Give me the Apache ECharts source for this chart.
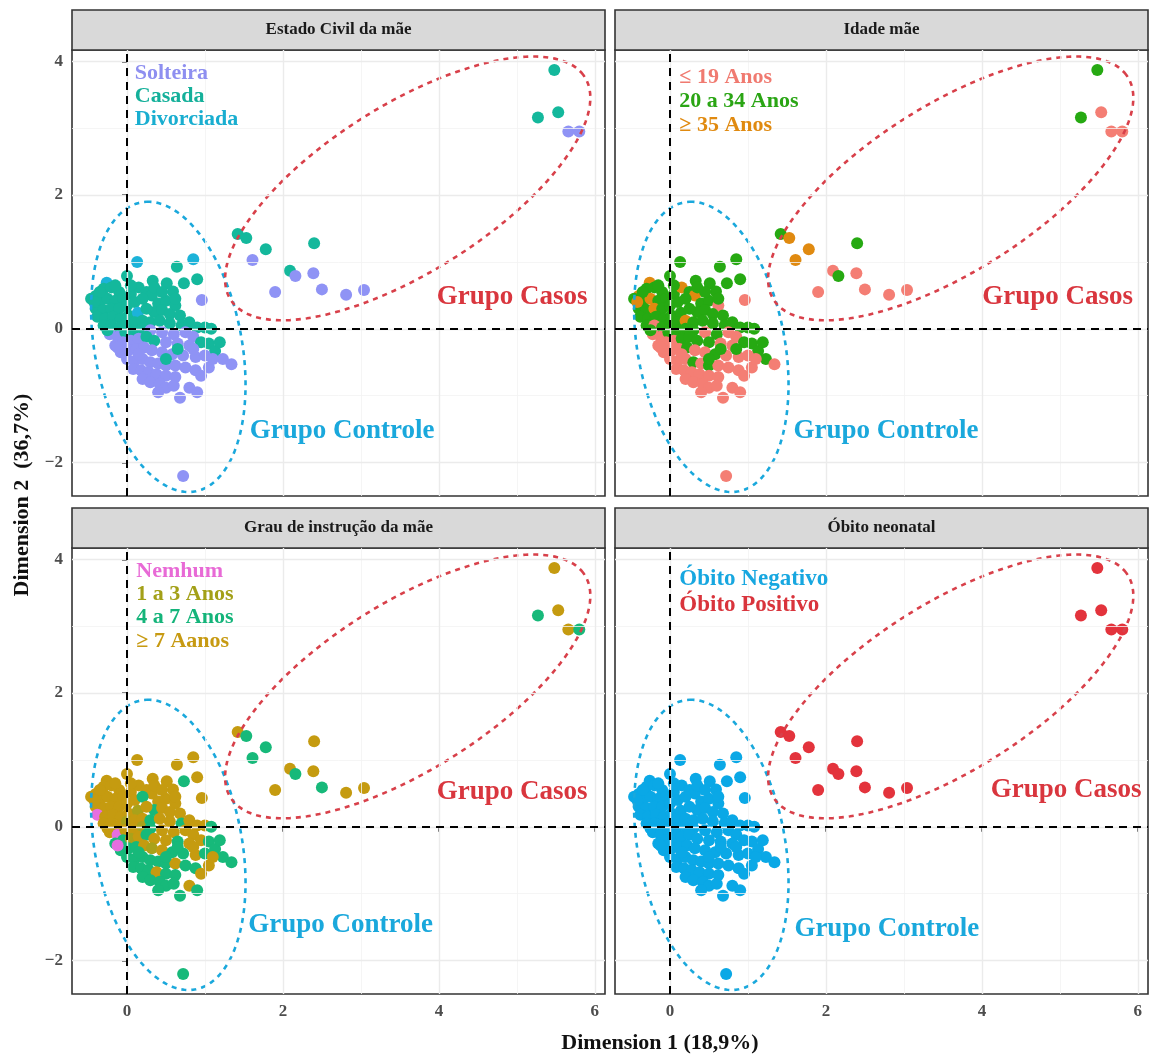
<!DOCTYPE html>
<html>
<head>
<meta charset="utf-8">
<script src="https://cdn.jsdelivr.net/npm/echarts@6/dist/echarts.min.js"></script>
<style>
  html, body { margin: 0; background: #fff; }
  #chart { width: 1150px; height: 1057px; }
</style>
</head>
<body>
<div id="chart"></div>
<script>
// MCA coordinates of each individual (controls first, then the 17 cases)
const dim1 = [
  0.13, 0.64, 0.85, 0.90, 0.73, 0.51, 0.59, 0.33, 0.00, 0.96,
  -0.26, -0.40, -0.46, -0.30, -0.20, -0.10, -0.35, -0.25, -0.15, -0.05,
  0.05, 0.15, 0.25, 0.32, -0.40, -0.30, -0.20, -0.10, 0.00, 0.10,
  -0.38, -0.28, -0.18, -0.08, 0.02, 0.14, -0.30, -0.20, -0.10, 0.00,
  0.10, 0.20, -0.22, -0.12, -0.02, 0.08, 0.20, 0.40, 0.50, 0.62,
  0.35, 0.45, 0.55, 0.68, 0.30, 0.42, 0.55, 0.70, 0.80, 0.90,
  1.00, 1.08, 0.30, 0.45, 0.60, 0.75, 0.85, -0.15, -0.05, 0.05,
  0.15, 0.25, 0.35, 0.50, 0.65, 0.80, 0.95, 1.05, 1.13, 1.19,
  -0.08, 0.02, 0.12, 0.22, 0.32, 0.45, 0.58, 0.72, 0.88, 1.00,
  1.23, 1.34, 1.05, 0.00, 0.10, 0.20, 0.30, 0.40, 0.50, 0.62,
  0.75, 0.88, 0.08, 0.18, 0.28, 0.38, 0.50, 0.62, 0.20, 0.30,
  0.42, 0.50, 0.60, 0.80, 0.90, 0.68, 0.72, -0.35, -0.15, 0.05,
  0.20, -0.42, 0.35, 0.45, -0.25, 0.25, 0.62, 0.65, 0.50, 0.85,
  0.15, -0.12, 1.10, 0.95, 0.40,
  5.48, 5.27, 5.53, 5.66, 5.80, 1.42, 1.53, 1.78, 1.61, 2.40,
  2.09, 2.16, 2.39, 1.90, 2.50, 2.81, 3.04
];
const dim2 = [
  1.00, 0.93, 1.04, 0.74, 0.68, 0.68, 0.56, 0.72, 0.79, 0.43,
  0.69, 0.49, 0.45, 0.60, 0.62, 0.55, 0.40, 0.45, 0.42, 0.45,
  0.52, 0.62, 0.55, 0.50, 0.30, 0.28, 0.30, 0.30, 0.35, 0.40,
  0.18, 0.15, 0.18, 0.15, 0.20, 0.24, 0.05, 0.05, 0.02, 0.08,
  0.10, 0.12, -0.08, -0.12, -0.05, -0.02, 0.00, 0.38, 0.42, 0.35,
  0.25, 0.28, 0.22, 0.20, 0.10, 0.12, 0.08, 0.05, 0.10, 0.02,
  0.02, 0.00, -0.02, -0.05, -0.08, -0.05, -0.12, -0.25, -0.20, -0.18,
  -0.15, -0.12, -0.18, -0.20, -0.22, -0.25, -0.20, -0.22, -0.33, -0.20,
  -0.35, -0.32, -0.30, -0.28, -0.32, -0.35, -0.38, -0.40, -0.42, -0.40,
  -0.45, -0.53, -0.58, -0.45, -0.48, -0.45, -0.50, -0.52, -0.55, -0.55,
  -0.58, -0.62, -0.60, -0.62, -0.65, -0.68, -0.70, -0.72, -0.75, -0.80,
  -0.82, -0.88, -0.85, -0.88, -0.95, -1.03, -2.20, 0.55, 0.65, 0.65,
  0.45, 0.40, 0.62, 0.55, -0.02, 0.30, 0.45, -0.30, -0.45, -0.30,
  -0.38, -0.28, -0.45, -0.70, -0.95,
  3.87, 3.16, 3.24, 2.95, 2.95, 1.42, 1.36, 1.19, 1.03, 1.28,
  0.87, 0.79, 0.83, 0.55, 0.59, 0.51, 0.58
];

// group of each individual (index into the label arrays below)
const estadoCivil = [
  2, 1, 2, 1, 1, 1, 1, 1, 1, 0,
  2, 1, 1, 1, 1, 1, 1, 1, 1, 1,
  1, 1, 1, 1, 1, 1, 1, 1, 1, 1,
  1, 1, 1, 1, 1, 2, 1, 1, 1, 1,
  1, 1, 0, 0, 1, 1, 1, 1, 1, 1,
  1, 1, 1, 1, 1, 1, 1, 1, 1, 1,
  1, 1, 0, 0, 0, 0, 0, 0, 0, 0,
  0, 1, 1, 0, 0, 0, 1, 1, 1, 1,
  0, 0, 0, 0, 0, 0, 0, 0, 0, 0,
  0, 0, 0, 0, 0, 0, 0, 0, 0, 0,
  0, 0, 0, 0, 0, 0, 0, 0, 0, 0,
  0, 0, 0, 0, 0, 0, 0, 1, 1, 1,
  1, 1, 1, 1, 1, 1, 1, 1, 1, 0,
  0, 0, 0, 0, 0,
  1, 1, 1, 0, 0, 1, 1, 1, 0, 1,
  1, 0, 0, 0, 0, 0, 0
];
const idadeMae = [
  1, 1, 1, 1, 1, 1, 1, 1, 1, 0,
  2, 2, 1, 1, 1, 1, 1, 2, 1, 1,
  1, 2, 1, 2, 1, 1, 2, 1, 1, 1,
  1, 1, 1, 1, 1, 1, 1, 0, 1, 1,
  1, 2, 0, 0, 1, 1, 1, 1, 1, 0,
  1, 1, 1, 1, 1, 1, 1, 1, 1, 1,
  1, 1, 1, 0, 1, 0, 0, 0, 0, 0,
  1, 1, 1, 1, 0, 0, 1, 1, 1, 1,
  0, 0, 0, 1, 0, 0, 1, 0, 0, 0,
  1, 0, 0, 0, 0, 0, 1, 0, 1, 0,
  0, 0, 0, 0, 0, 0, 0, 0, 0, 0,
  0, 0, 0, 0, 0, 0, 0, 1, 1, 1,
  1, 2, 1, 1, 1, 1, 1, 1, 1, 1,
  0, 0, 0, 0, 0,
  1, 1, 0, 0, 0, 1, 2, 2, 2, 1,
  0, 1, 0, 0, 0, 0, 0
];
const grauInstrucao = [
  3, 3, 3, 3, 2, 3, 3, 3, 3, 3,
  3, 3, 3, 3, 3, 3, 3, 3, 3, 3,
  3, 3, 3, 3, 3, 3, 3, 3, 3, 3,
  0, 3, 3, 3, 3, 1, 3, 3, 3, 1,
  3, 3, 3, 0, 3, 3, 1, 3, 3, 3,
  2, 3, 3, 3, 2, 3, 3, 2, 3, 3,
  3, 2, 2, 3, 3, 3, 3, 2, 2, 1,
  3, 2, 3, 3, 2, 3, 3, 2, 2, 2,
  2, 2, 2, 3, 1, 3, 2, 2, 3, 2,
  2, 2, 3, 2, 2, 2, 2, 2, 2, 3,
  2, 2, 2, 2, 2, 3, 2, 2, 2, 2,
  2, 2, 2, 3, 2, 2, 2, 3, 3, 3,
  2, 3, 3, 3, 3, 3, 3, 2, 2, 3,
  2, 0, 3, 3, 2,
  3, 2, 3, 3, 2, 3, 2, 2, 2, 3,
  3, 2, 3, 3, 2, 3, 3
];
const obitoNeonatal = [
  0, 0, 0, 0, 0, 0, 0, 0, 0, 0,
  0, 0, 0, 0, 0, 0, 0, 0, 0, 0,
  0, 0, 0, 0, 0, 0, 0, 0, 0, 0,
  0, 0, 0, 0, 0, 0, 0, 0, 0, 0,
  0, 0, 0, 0, 0, 0, 0, 0, 0, 0,
  0, 0, 0, 0, 0, 0, 0, 0, 0, 0,
  0, 0, 0, 0, 0, 0, 0, 0, 0, 0,
  0, 0, 0, 0, 0, 0, 0, 0, 0, 0,
  0, 0, 0, 0, 0, 0, 0, 0, 0, 0,
  0, 0, 0, 0, 0, 0, 0, 0, 0, 0,
  0, 0, 0, 0, 0, 0, 0, 0, 0, 0,
  0, 0, 0, 0, 0, 0, 0, 0, 0, 0,
  0, 0, 0, 0, 0, 0, 0, 0, 0, 0,
  0, 0, 0, 0, 0,
  1, 1, 1, 1, 1, 1, 1, 1, 1, 1,
  1, 1, 1, 1, 1, 1, 1
];

const panelTitles = ['Estado Civil da mãe', 'Idade mãe', 'Grau de instrução da mãe', 'Óbito neonatal'];
const estadoLabels = ['Solteira', 'Casada', 'Divorciada'];
const idadeLabels = ['≤ 19 Anos', '20 a 34 Anos', '≥ 35 Anos'];
const grauLabels = ['Nemhum', '1 a 3 Anos', '4 a 7 Anos', '≥ 7 Aanos'];
const obitoLabels = ['Óbito Negativo', 'Óbito Positivo'];
const xTicks = [0, 2, 4, 6];
const yTicks = [-2, 0, 2, 4];
const xMinor = [1, 3, 5];
const yMinor = [-1, 1, 3];

// ellipses: centre plus two conjugate semi-axes, in data units
const casosEllipse = { c: [3.6, 2.1], a: [2.25, 1.7], b: [-0.65, 1.0] };
const controleEllipse = { c: [0.53, -0.27], a: [-0.28, 2.17], b: [0.95, 0.05] };

const FONT = '"Liberation Serif", "Times New Roman", serif';
const RED = '#d9363e';
const BLUE = '#1aa8dc';
const LEFT = [72, 615], TOP = [50, 548], PW = 533, PH = 446, STRIP = 40;

const panels = [
  { groups: estadoCivil, labels: estadoLabels, colors: ['#8f93f5', '#14b89c', '#1cb3d9'],
    text: ['#8e8ff0', '#14b09a', '#19aed0'], col: 0, row: 0,
    leg: { x: 0.10, y: [3.82, 3.47, 3.14], size: 22 }, casos: [4.94, 0.48], controle: [2.76, -1.53] },
  { groups: idadeMae, labels: idadeLabels, colors: ['#f47e74', '#26a912', '#e08a10'],
    text: ['#f07a70', '#2aa514', '#e08a10'], col: 1, row: 0,
    leg: { x: 0.12, y: [3.76, 3.40, 3.05], size: 22 }, casos: [4.97, 0.48], controle: [2.77, -1.53] },
  { groups: grauInstrucao, labels: grauLabels, colors: ['#e66ee0', '#a9a21a', '#17b97a', '#c59b10'],
    text: ['#e86ad6', '#a3a018', '#14b47a', '#c79a12'], col: 0, row: 1,
    leg: { x: 0.12, y: [3.82, 3.47, 3.13, 2.78], size: 22 }, casos: [4.94, 0.52], controle: [2.74, -1.47] },
  { groups: obitoNeonatal, labels: obitoLabels, colors: ['#0aa8e6', '#e3333c'],
    text: ['#17a7e0', '#d9343c'], col: 1, row: 1,
    leg: { x: 0.12, y: [3.71, 3.31], size: 23 }, casos: [5.08, 0.55], controle: [2.78, -1.53] }
];

function ellipsePath(e) {
  const pts = [];
  for (let k = 0; k <= 160; k++) {
    const t = k / 160 * 2 * Math.PI;
    pts.push([e.c[0] + e.a[0] * Math.cos(t) + e.b[0] * Math.sin(t),
              e.c[1] + e.a[1] * Math.cos(t) + e.b[1] * Math.sin(t)]);
  }
  return pts;
}

const minus = v => (v < 0 ? '\u2212' + Math.abs(v) : String(v));
const tickLabel = { fontFamily: FONT, fontWeight: 'bold', fontSize: 17, color: '#4d4d4d' };

const grid = [], xAxis = [], yAxis = [], series = [], graphic = [];

panels.forEach((p, i) => {
  grid.push({ left: LEFT[p.col], top: TOP[p.row], width: PW, height: PH,
    show: true, borderColor: '#333', borderWidth: 1.6, backgroundColor: '#fff' });

  xAxis.push({ gridIndex: i, type: 'value', min: -0.705, max: 6.13,
    axisLine: { show: false }, splitLine: { show: false },
    axisTick: { show: p.row === 1, customValues: xTicks, length: 5, lineStyle: { color: '#333', width: 1.5 } },
    axisLabel: Object.assign({ show: p.row === 1, customValues: xTicks, margin: 9, formatter: minus }, tickLabel) });

  yAxis.push({ gridIndex: i, type: 'value', min: -2.5, max: 4.17,
    axisLine: { show: false }, splitLine: { show: false },
    axisTick: { show: p.col === 0, customValues: yTicks, length: 5, lineStyle: { color: '#333', width: 1.5 } },
    axisLabel: Object.assign({ show: p.col === 0, customValues: yTicks, margin: 9, formatter: minus }, tickLabel) });

  const major = { color: '#ebebeb', width: 1.4, type: 'solid' };
  const minor = { color: '#f3f3f3', width: 0.8, type: 'solid' };
  series.push({ type: 'line', xAxisIndex: i, yAxisIndex: i, data: [], silent: true, z: 1,
    markLine: { silent: true, symbol: ['none', 'none'], label: { show: false }, animation: false,
      data: [].concat(
        xMinor.map(v => ({ xAxis: v, lineStyle: minor })),
        yMinor.map(v => ({ yAxis: v, lineStyle: minor })),
        xTicks.map(v => ({ xAxis: v, lineStyle: major })),
        yTicks.map(v => ({ yAxis: v, lineStyle: major }))) } });

  series.push({ type: 'scatter', xAxisIndex: i, yAxisIndex: i, z: 3, symbolSize: 12, animation: false,
    data: dim1.map((x, k) => [x, dim2[k], p.groups[k]]),
    itemStyle: { opacity: 1, color: prm => p.colors[prm.data[2]] } });

  [[controleEllipse, BLUE], [casosEllipse, '#d8404a']].forEach(([e, c]) => {
    series.push({ type: 'line', xAxisIndex: i, yAxisIndex: i, z: 4, silent: true, animation: false,
      data: ellipsePath(e), showSymbol: false, symbol: 'none',
      lineStyle: { color: c, width: 2.6, type: [5, 5] } });
  });

  series.push({ type: 'line', xAxisIndex: i, yAxisIndex: i, data: [], silent: true, z: 5,
    markLine: { silent: true, symbol: ['none', 'none'], label: { show: false }, animation: false,
      lineStyle: { color: '#000', width: 2, type: [8, 6] },
      data: [{ xAxis: 0 }, { yAxis: 0 }] } });

  graphic.push({ type: 'rect', shape: { x: LEFT[p.col], y: TOP[p.row] - STRIP, width: PW, height: STRIP },
    style: { fill: '#d9d9d9', stroke: '#333', lineWidth: 1.6 } });
  graphic.push({ type: 'text', x: LEFT[p.col] + PW / 2, y: TOP[p.row] - STRIP / 2,
    style: { text: panelTitles[i], fill: '#1a1a1a', font: 'bold 17px ' + FONT, align: 'center', verticalAlign: 'middle' } });
});

graphic.push({ type: 'text', x: 660, y: 1043,
  style: { text: 'Dimension 1 (18,9%)', fill: '#111', font: 'bold 22px ' + FONT, align: 'center', verticalAlign: 'middle' } });
graphic.push({ type: 'text', x: 22, y: 495, rotation: Math.PI / 2,
  style: { text: 'Dimension 2  (36,7%)', fill: '#111', font: 'bold 22px ' + FONT, align: 'center', verticalAlign: 'middle' } });

const chart = echarts.init(document.getElementById('chart'));
chart.setOption({ backgroundColor: '#fff', animation: false, grid, xAxis, yAxis, series, graphic });

// in-panel annotations, anchored in data units through each panel's scales
function note(i, pos, text, color, size, align) {
  const [px, py] = chart.convertToPixel({ gridIndex: i }, pos);
  return { type: 'text', x: px, y: py, z: 100,
    style: { text, fill: color, font: 'bold ' + size + 'px ' + FONT, align, verticalAlign: 'middle' } };
}
const notes = [];
panels.forEach((p, i) => {
  p.labels.forEach((txt, k) => notes.push(note(i, [p.leg.x, p.leg.y[k]], txt, p.text[k], p.leg.size, 'left')));
  notes.push(note(i, p.casos, 'Grupo Casos', RED, 27, 'center'));
  notes.push(note(i, p.controle, 'Grupo Controle', BLUE, 27, 'center'));
});
chart.setOption({ graphic: graphic.concat(notes) });
</script>
</body>
</html>
